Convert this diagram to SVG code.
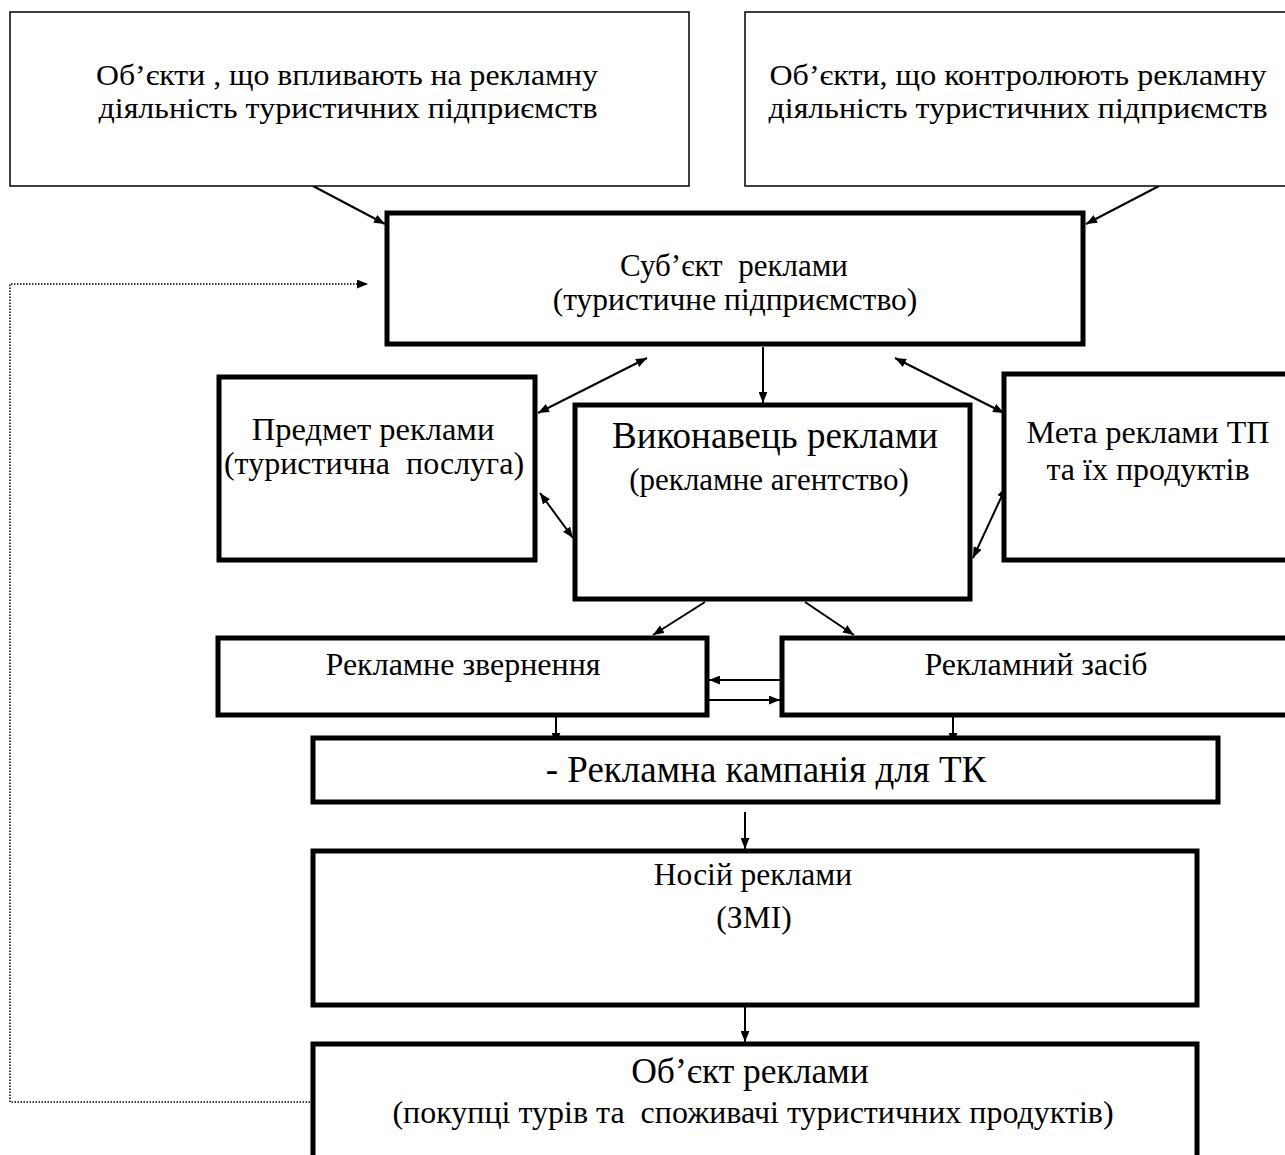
<svg xmlns="http://www.w3.org/2000/svg" width="1285" height="1155" viewBox="0 0 1285 1155">
<style>
text{font-family:"Liberation Serif","Times New Roman",serif;fill:#000;text-anchor:middle}
.thin{fill:#fff;stroke:#000;stroke-width:1.5}
.thick{fill:#fff;stroke:#000;stroke-width:5}
.c{stroke:#000;stroke-width:2;fill:none}
.e{marker-end:url(#ah)}
.b{marker-start:url(#ah);marker-end:url(#ah)}
.dot{stroke:#000;stroke-width:1.5;fill:none;stroke-dasharray:1.5 1.5}
</style>
<defs>
<marker id="ah" viewBox="0 0 10 8" refX="10" refY="4" markerWidth="11" markerHeight="9" markerUnits="userSpaceOnUse" orient="auto-start-reverse"><path d="M0,0 L10,4 L0,8 z" fill="#000"/></marker>
</defs>
<rect width="1285" height="1155" fill="#fff"/>
<g id="connectors">
<line class="c e" x1="313" y1="186" x2="385" y2="224"/>
<line class="c e" x1="1159" y1="186" x2="1086" y2="224"/>
<path class="dot e" d="M310 1102 H10 V284 H368"/>
<line class="c b" x1="647" y1="358" x2="538" y2="413"/>
<line class="c b" x1="540" y1="493" x2="573" y2="538"/>
<line class="c e" x1="763" y1="347" x2="763" y2="403"/>
<line class="c b" x1="895" y1="358" x2="1004" y2="413"/>
<line class="c b" x1="1006" y1="487" x2="973" y2="558"/>
<line class="c e" x1="705" y1="602" x2="653" y2="635"/>
<line class="c e" x1="805" y1="602" x2="854" y2="635"/>
<line class="c e" x1="780" y1="680" x2="709" y2="680"/>
<line class="c e" x1="709" y1="700" x2="780" y2="700"/>
<line class="c e" x1="556" y1="710" x2="556" y2="744"/>
<line class="c e" x1="953" y1="710" x2="953" y2="744"/>
<line class="c e" x1="745" y1="812" x2="745" y2="849"/>
<line class="c e" x1="745" y1="1007" x2="745" y2="1042"/>
</g>
<g id="influence">
<rect class="thin" x="10" y="12" width="679" height="174"/>
<text x="347" y="84.5" font-size="30" textLength="502" lengthAdjust="spacingAndGlyphs">Об’єкти , що впливають на рекламну</text>
<text x="348" y="118" font-size="30" textLength="499" lengthAdjust="spacingAndGlyphs">діяльність туристичних підприємств</text>
</g>
<g id="control">
<rect class="thin" x="745" y="12" width="560" height="174"/>
<text x="1018" y="84.5" font-size="30" textLength="497" lengthAdjust="spacingAndGlyphs">Об’єкти, що контролюють рекламну</text>
<text x="1018" y="118" font-size="30" textLength="499" lengthAdjust="spacingAndGlyphs">діяльність туристичних підприємств</text>
</g>
<g id="subject">
<rect class="thick" x="387" y="213" width="696" height="131"/>
<text x="734" y="276" font-size="31" xml:space="preserve">Суб’єкт  реклами</text>
<text x="735" y="310" font-size="31.5">(туристичне підприємство)</text>
</g>
<g id="item">
<rect class="thick" x="219" y="377" width="316" height="183"/>
<text x="373" y="440" font-size="32.5">Предмет реклами</text>
<text x="374" y="474" font-size="32" xml:space="preserve">(туристична  послуга)</text>
</g>
<g id="executor">
<rect class="thick" x="575" y="405" width="395" height="194"/>
<text x="775" y="448" font-size="37">Виконавець реклами</text>
<text x="769" y="490" font-size="31">(рекламне агентство)</text>
</g>
<g id="goal">
<rect class="thick" x="1004" y="374" width="300" height="186"/>
<text x="1148" y="443" font-size="32">Мета реклами ТП</text>
<text x="1148" y="480" font-size="32">та їх продуктів</text>
</g>
<g id="message">
<rect class="thick" x="218" y="638" width="489" height="77"/>
<text x="463" y="675" font-size="32">Рекламне звернення</text>
</g>
<g id="medium">
<rect class="thick" x="782" y="638" width="520" height="77"/>
<text x="1036" y="675" font-size="32">Рекламний засіб</text>
</g>
<g id="campaign">
<rect class="thick" x="313" y="738" width="905" height="64"/>
<text x="766" y="782" font-size="37">- Рекламна кампанія для ТК</text>
</g>
<g id="carrier">
<rect class="thick" x="313" y="851" width="884" height="154"/>
<text x="753" y="885" font-size="31.5">Носій реклами</text>
<text x="754" y="928" font-size="31.5">(ЗМІ)</text>
</g>
<g id="object">
<rect class="thick" x="313" y="1044" width="884" height="130"/>
<text x="750" y="1083" font-size="35.5">Об’єкт реклами</text>
<text x="753" y="1123" font-size="32" xml:space="preserve">(покупці турів та  споживачі туристичних продуктів)</text>
</g>
</svg>
